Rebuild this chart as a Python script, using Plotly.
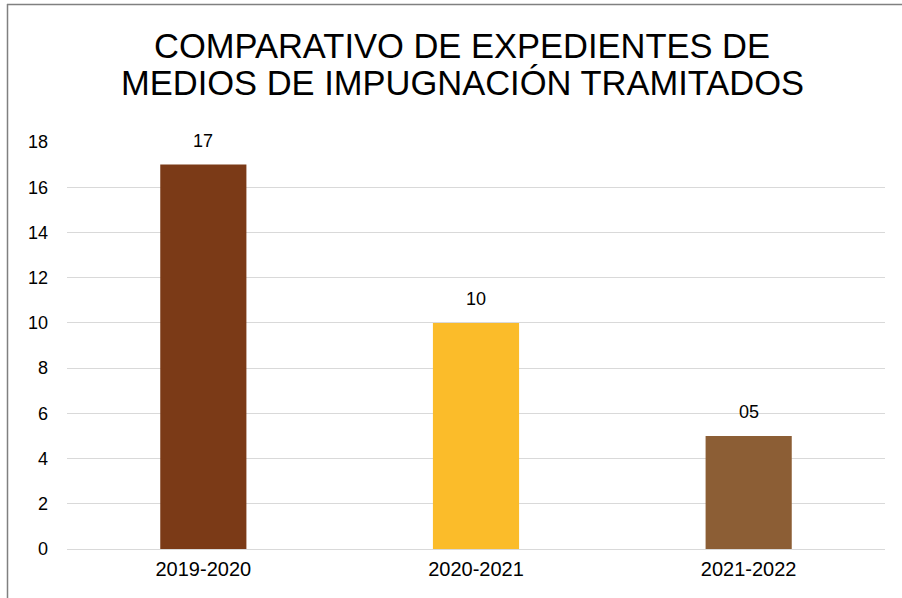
import plotly.graph_objects as go

categories = ["2019-2020", "2020-2021", "2021-2022"]
values = [17, 10, 5]
value_labels = ["17", "10", "05"]
bar_colors = ["#7B3A17", "#FBBC2A", "#8C5E35"]
y_ticks = [0, 2, 4, 6, 8, 10, 12, 14, 16, 18]
title_lines = ["COMPARATIVO DE EXPEDIENTES DE", "MEDIOS DE IMPUGNACIÓN TRAMITADOS"]

W, H = 902, 598
L, R, T, B = 67, 17, 142, 49
pw, ph = W - L - R, H - T - B


def px_x(p):
    return (p - L) / pw


def px_y(p):
    return (H - B - p) / ph


fig = go.Figure()
fig.add_trace(go.Bar(
    x=categories, y=values, marker=dict(color=bar_colors, line=dict(width=0)),
    width=0.316, hoverinfo="skip",
))

for c, v, t in zip(categories, values, value_labels):
    fig.add_annotation(x=c, y=v, text=t, showarrow=False, yanchor="bottom",
                       yshift=12, font=dict(size=18, color="#000000"))

for line, ypx in zip(title_lines, [46, 83]):
    fig.add_annotation(xref="paper", yref="paper", x=px_x(462), y=px_y(ypx),
                       xanchor="center", yanchor="middle", showarrow=False,
                       text=line, font=dict(size=34.5, color="#000000"))

border = "#808080"
fig.add_shape(type="line", xref="paper", yref="paper",
              x0=px_x(7), x1=px_x(905), y0=px_y(4.5), y1=px_y(4.5),
              line=dict(color=border, width=1.5))
fig.add_shape(type="line", xref="paper", yref="paper",
              x0=px_x(7.5), x1=px_x(7.5), y0=px_y(4), y1=px_y(600),
              line=dict(color=border, width=1.5))

fig.update_layout(
    width=W, height=H,
    margin=dict(l=L, r=R, t=T, b=B),
    paper_bgcolor="white", plot_bgcolor="white",
    font=dict(family="Liberation Sans, Arial, sans-serif", color="#000000", size=18),
    showlegend=False,
    bargap=0.684,
    xaxis=dict(showgrid=False, showline=False, ticks="", tickfont=dict(size=20),
               range=[-0.5, 2.5], ticklabelstandoff=6),
    yaxis=dict(range=[0, 18], tickvals=y_ticks, showgrid=True, gridcolor="#D9D9D9",
               gridwidth=1, zeroline=True, zerolinecolor="#D9D9D9", zerolinewidth=1,
               ticks="", ticklabelstandoff=18, tickfont=dict(size=18)),
)

fig.write_html("out.html", config={"displayModeBar": False},
               post_script="document.body.style.margin='0';document.body.style.overflow='hidden';")
